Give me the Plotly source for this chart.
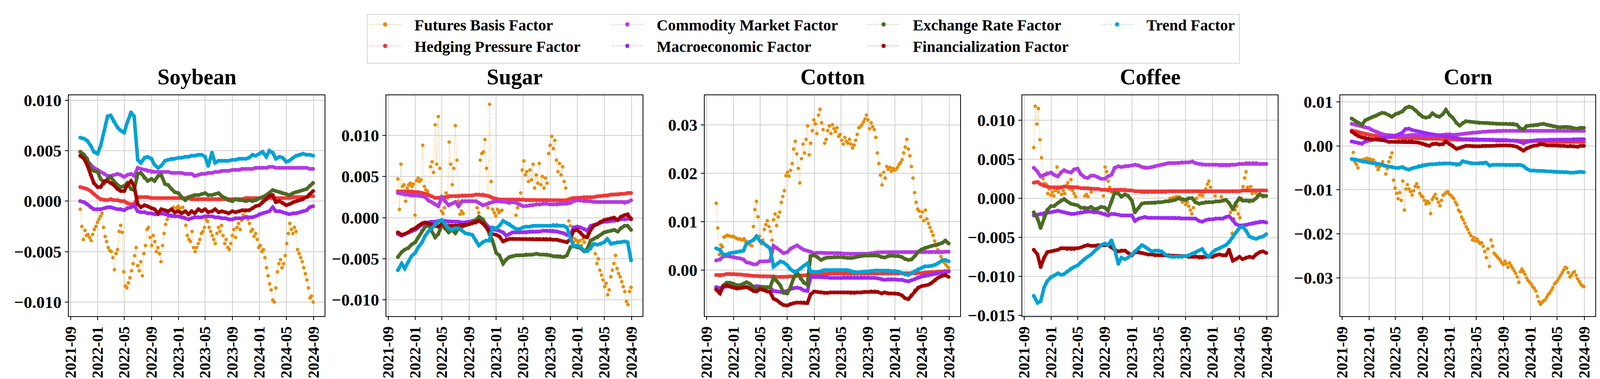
import pandas as pd
import plotly.graph_objects as go

# factor loadings, in units of 1e-3
UNIT = 1e-3

# weekly dates for the futures basis factor, semi-monthly dates for the rest
WEEKLY = pd.date_range("2021-10-15", "2024-08-30", freq="7D")
HALF_MONTH = pd.date_range("2021-10-15", "2024-08-15", freq="SMS").append(pd.DatetimeIndex(["2024-08-30"]))

COMMODITIES = ["Soybean", "Sugar", "Cotton", "Coffee", "Corn"]
FACTORS = ["Futures Basis Factor", "Hedging Pressure Factor", "Commodity Market Factor",
           "Macroeconomic Factor", "Exchange Rate Factor", "Financialization Factor", "Trend Factor"]

# ---- Soybean ----
SOY_BASIS = [-0.8, -2.5, -3.8, -2.9, -3.4, -3.3, -3.6, -3.9, -3.3, -2.8,
             -2.5, -2.1, -1.8, -1.5, -1.2, -2.6, -3.5, -4.0, -4.6, -4.9,
             -5.0, -5.6, -6.8, -5.2, -4.8, -3.0, -2.4, -3.1, -7.0, -8.4,
             -8.6, -8.1, -7.6, -6.9, -6.2, -5.4, -4.6, -6.4, -6.9, -6.0,
             -7.4, -5.2, -4.4, -2.8, -2.6, -3.6, -4.4, -3.4, -4.0, -5.0,
             -4.6, -5.2, -6.0, -4.4, -3.2, -2.3, -1.8, -1.5, -1.4, -0.9,
             -0.6, -1.2, -0.7, -0.5, -0.7, -1.1, -0.6, -1.6, -2.4, -3.4,
             -3.8, -4.0, -3.0, -4.6, -5.0, -4.6, -4.2, -3.8, -3.2, -3.0,
             -2.6, -1.8, -2.0, -2.6, -3.0, -3.4, -3.8, -4.2, -3.2, -2.6,
             -3.0, -2.4, -3.4, -4.2, -3.8, -4.6, -4.8, -4.2, -3.4, -2.8,
             -3.6, -2.6, -2.2, -2.8, -1.9, -1.4, -1.0, -1.5, -1.8, -2.2,
             -3.0, -2.8, -3.5, -3.2, -3.8, -4.6, -4.4, -5.0, -4.8, -5.6,
             -6.6, -7.4, -8.2, -8.8, -9.8, -10.0, -8.6, -7.0, -6.2, -5.8,
             -6.6, -6.2, -5.4, -4.2, -3.2, -2.2, -2.8, -3.2, -2.6, -3.0,
             -4.8, -5.2, -5.6, -6.0, -6.6, -7.2, -7.8, -8.6, -9.6, -9.4, -10.0]
SOY_HEDGE = [1.4, 1.3, 1.2, 1.0, 0.7, 0.4, 0.2, 0.1, 0.1, 0.2,
             0.1, 0.1, 0.0, 0.0, -0.2, -0.3, -0.3, 0.4, 0.4, 0.4,
             0.4, 0.3, 0.3, 0.3, 0.3, 0.3, 0.3, 0.3, 0.3, 0.3,
             0.3, 0.3, 0.3, 0.2, 0.2, 0.2, 0.2, 0.2, 0.2, 0.2,
             0.2, 0.2, 0.2, 0.2, 0.2, 0.2, 0.2, 0.2, 0.2, 0.3,
             0.3, 0.3, 0.3, 0.3, 0.3, 0.3, 0.3, 0.3, 0.3, 0.3,
             0.3, 0.3, 0.3, 0.4, 0.4, 0.4, 0.4, 0.4, 0.5, 0.5]
SOY_COMM = [4.5, 4.3, 4.0, 3.6, 3.3, 3.1, 2.9, 2.7, 2.5, 2.5,
            2.6, 2.7, 2.6, 2.4, 2.6, 2.7, 2.5, 3.3, 3.2, 3.1,
            3.0, 2.9, 2.9, 2.9, 2.9, 2.9, 2.9, 2.8, 2.8, 2.8,
            2.8, 2.7, 2.7, 2.7, 2.5, 2.6, 2.7, 2.7, 2.8, 2.8,
            2.9, 2.9, 3.0, 3.0, 3.0, 3.1, 3.1, 3.1, 3.2, 3.2,
            3.2, 3.2, 3.3, 3.3, 3.3, 3.3, 3.4, 3.4, 3.3, 3.3,
            3.3, 3.3, 3.3, 3.3, 3.3, 3.3, 3.3, 3.3, 3.2, 3.2]
SOY_MACRO = [0.0, -0.1, -0.3, -0.6, -0.8, -0.8, -0.8, -0.7, -0.6, -0.6,
             -0.7, -0.8, -0.8, -0.9, -0.7, -0.6, -0.4, -1.0, -1.1, -1.1,
             -1.2, -1.2, -1.3, -1.3, -1.2, -1.3, -1.4, -1.5, -1.5, -1.5,
             -1.6, -1.7, -1.8, -1.7, -1.6, -1.6, -1.6, -1.5, -1.5, -1.5,
             -1.6, -1.6, -1.7, -1.7, -1.8, -1.8, -1.7, -1.7, -1.7, -1.6,
             -1.6, -1.6, -1.5, -1.3, -1.2, -1.1, -1.0, -0.6, -1.0, -1.0,
             -1.1, -1.2, -1.3, -1.2, -1.2, -1.1, -1.0, -0.9, -0.6, -0.5]
SOY_FX = [4.9, 4.6, 4.2, 3.2, 3.0, 2.9, 2.2, 1.8, 2.2, 2.4,
          2.0, 1.6, 1.4, 1.5, 1.8, 1.2, 1.1, 2.7, 2.8, 2.3,
          2.0, 2.2, 2.0, 2.5, 2.6, 1.7, 1.6, 1.2, 0.9, 0.8,
          0.4, 0.1, 0.4, 0.5, 0.6, 0.6, 0.7, 0.8, 0.6, 0.6,
          0.7, 0.8, 0.5, 0.3, 0.1, 0.0, 0.2, 0.1, 0.1, 0.0,
          0.1, 0.0, 0.1, 0.3, 0.4, 0.6, 0.8, 1.1, 1.0, 0.9,
          0.8, 0.7, 0.6, 0.8, 0.9, 1.0, 1.1, 1.2, 1.5, 1.8]
SOY_FIN = [4.5, 4.2, 3.6, 2.6, 1.8, 1.4, 1.4, 2.0, 2.0, 1.8,
           1.6, 1.2, 1.0, 1.0, 1.6, 2.0, 1.5, -0.3, -0.6, -0.4,
           -0.5, -0.7, -0.8, -1.2, -0.8, -0.9, -1.0, -0.8, -1.1, -1.0,
           -1.2, -1.0, -1.3, -1.0, -1.2, -0.8, -1.0, -0.8, -1.1, -1.0,
           -0.8, -1.1, -1.0, -1.1, -1.2, -1.0, -1.1, -1.0, -0.9, -0.9,
           -0.9, -0.7, -0.5, -0.4, -0.1, 0.2, 0.5, 0.6, -0.1, 0.0,
           -0.2, -0.4, -0.3, -0.1, 0.0, 0.1, 0.2, 0.4, 0.7, 1.0]
SOY_TREND = [6.3, 6.2, 6.0, 5.5, 4.9, 4.7, 5.5, 7.0, 8.4, 8.5,
             7.9, 7.3, 7.0, 6.8, 7.8, 8.8, 8.4, 4.1, 3.8, 4.3,
             4.4, 4.2, 3.6, 3.3, 3.5, 4.0, 4.1, 4.2, 4.2, 4.3,
             4.3, 4.4, 4.4, 4.5, 4.5, 4.6, 4.6, 4.4, 3.5, 4.8,
             3.8, 4.0, 4.0, 4.0, 4.0, 4.1, 4.1, 4.2, 4.2, 4.2,
             4.3, 4.6, 4.5, 4.7, 4.9, 4.4, 5.0, 4.8, 4.2, 4.4,
             4.3, 3.9, 4.0, 4.3, 4.5, 4.6, 4.7, 4.6, 4.6, 4.5]

# ---- Sugar ----
SUGAR_BASIS = [4.7, 1.0, 6.5, 3.8, 4.0, 2.0, 3.6, 4.0, 4.2, 3.8,
               4.1, 0.3, 4.5, 4.8, 4.4, 4.6, 8.8, 3.8, 3.4, 3.2,
               2.0, 6.2, 6.8, 5.5, 11.3, 6.5, 12.3, 6.0, 0.8, 0.5,
               1.2, 3.0, 2.4, 9.2, 6.5, 4.0, 6.0, 11.2, 7.0, 2.0,
               0.4, 0.8, 0.5, None, None, None, None, None, None, None,
               None, 1.2, 0.6, 7.0, 7.8, 8.0, 9.5, 6.0, 1.2, 13.8,
               4.4, 1.0, 0.6, 0.2, 1.0, 0.6, 0.8, 0.9, None, None,
               None, None, None, None, None, None, 0.3, 1.2, 1.6, 3.0,
               5.8, 6.9, 5.2, 5.6, 4.4, 5.8, 4.6, 6.5, 3.6, 5.2,
               4.2, 6.6, 4.0, 5.0, 3.6, 4.8, 4.2, 7.8, 8.8, 9.9,
               8.4, 9.4, 7.0, 5.6, 6.6, 5.2, 6.2, 4.4, 3.6, 2.2,
               -0.4, -1.0, -2.4, -3.0, -2.6, -2.8, -3.0, -2.8, -3.4, -2.6,
               -3.0, -2.4, -2.0, -1.6, -3.8, -3.4, -2.6, -4.4, -5.6, -5.0,
               -6.4, -7.0, -7.6, -8.4, -8.0, -9.4, -8.8, -7.2, -6.4, -5.6,
               -4.6, -6.2, -6.8, -7.2, -7.8, -8.4, -9.0, -10.2, -10.6, -9.0, -8.5]
SUGAR_HEDGE = [3.2, 3.2, 3.2, 3.2, 3.2, 3.1, 3.1, 3.0, 2.9, 2.8,
               2.6, 2.4, 2.4, 2.4, 2.5, 2.6, 2.6, 2.6, 2.6, 2.7,
               2.7, 2.7, 2.7, 2.8, 2.8, 2.8, 2.7, 2.6, 2.4, 2.3,
               2.2, 2.2, 2.2, 2.2, 2.2, 2.2, 2.2, 2.2, 2.1, 2.1,
               2.1, 2.1, 2.1, 2.1, 2.1, 2.1, 2.1, 2.1, 2.1, 2.1,
               2.1, 2.3, 2.4, 2.4, 2.4, 2.5, 2.5, 2.5, 2.5, 2.6,
               2.6, 2.7, 2.7, 2.8, 2.8, 2.8, 2.9, 2.9, 3.0, 3.0]
SUGAR_COMM = [3.0, 2.9, 2.8, 2.8, 2.7, 2.7, 2.7, 2.6, 2.5, 2.1,
              1.9, 1.6, 1.4, 2.5, 2.0, 1.5, 1.7, 1.9, 1.4, 2.0,
              2.0, 2.0, 2.0, 2.0, 1.8, 1.5, 1.6, 1.8, 1.9, 2.0,
              2.0, 2.0, 1.9, 1.8, 1.9, 1.8, 1.6, 1.4, 1.4, 1.5,
              1.5, 1.6, 1.6, 1.7, 1.7, 1.6, 1.6, 1.6, 1.7, 1.7,
              1.7, 1.8, 2.0, 2.1, 2.1, 2.0, 2.0, 2.0, 1.9, 1.9,
              1.9, 1.9, 1.9, 1.9, 1.9, 1.9, 1.9, 1.8, 1.9, 2.1]
SUGAR_MACRO = [-2.0, -2.2, -2.0, -1.8, -1.6, -1.5, -1.2, -0.8, -0.6, -0.6,
               -0.5, -0.5, -0.4, -0.4, -0.4, -0.5, -0.5, -0.5, -0.5, -0.6,
               -0.6, -0.5, -0.4, -0.3, 0.0, -0.2, -0.8, -1.2, -1.4, -1.5,
               -1.6, -1.8, -2.2, -2.0, -1.8, -1.8, -1.8, -1.8, -1.8, -1.7,
               -1.7, -1.7, -1.7, -1.6, -1.6, -1.6, -1.6, -1.7, -1.8, -1.9,
               -2.1, -2.2, -1.2, -1.1, -1.2, -1.4, -1.6, -1.0, -0.9, -0.8,
               -0.6, -0.5, -0.5, -0.4, -0.4, -0.3, -0.2, -0.2, -0.1, -0.1]
SUGAR_FX = [-4.8, -4.2, -3.9, -3.7, -3.3, -3.0, -2.4, -1.6, -1.1, -0.9,
            -1.5, -2.4, -2.0, -0.9, -1.3, -1.8, -1.5, -1.9, -1.3, -1.1,
            -0.9, -0.8, -0.6, -0.3, 0.1, -0.2, -1.0, -2.0, -2.8, -4.3,
            -4.6, -5.6, -5.1, -4.8, -4.7, -4.6, -4.6, -4.6, -4.5, -4.5,
            -4.5, -4.4, -4.5, -4.5, -4.5, -4.6, -4.7, -4.7, -4.7, -4.8,
            -4.6, -3.6, -3.5, -3.6, -3.7, -4.1, -3.8, -2.8, -2.6, -2.4,
            -2.1, -1.8, -1.7, -1.6, -1.5, -1.7, -1.3, -1.0, -1.0, -1.5]
SUGAR_FIN = [-1.8, -2.1, -2.0, -1.8, -1.5, -1.3, -1.0, -0.7, -0.6, -0.7,
             -0.9, -1.0, -1.1, -0.8, -0.9, -1.0, -1.0, -1.0, -1.0, -0.9,
             -0.9, -0.8, -0.7, -0.6, -0.4, -0.7, -1.1, -1.6, -2.0, -2.1,
             -2.3, -2.9, -2.7, -2.6, -2.6, -2.6, -2.6, -2.6, -2.6, -2.6,
             -2.6, -2.6, -2.6, -2.6, -2.6, -2.6, -2.7, -2.7, -2.8, -2.9,
             -3.0, -2.6, -1.6, -1.5, -1.8, -2.3, -2.4, -1.5, -1.0, -0.8,
             -0.5, -0.3, -0.2, -0.1, 0.0, -0.3, 0.1, 0.3, 0.4, -0.2]
SUGAR_TREND = [-6.4, -5.6, -6.2, -5.4, -4.7, -4.3, -3.6, -3.0, -2.2, -1.7,
               -1.3, -0.8, -0.5, -0.3, -0.8, -1.3, -1.5, -1.3, -1.3, -1.6,
               -1.9, -2.0, -2.1, -2.8, -3.4, -3.0, -2.8, -2.8, -1.2, -1.3,
               -1.0, -0.4, -0.6, -0.8, -1.1, -1.4, -1.4, -1.2, -1.1, -1.1,
               -1.0, -1.0, -1.0, -1.0, -1.0, -1.0, -0.9, -0.9, -1.0, -1.0,
               -1.2, -2.6, -3.5, -3.4, -3.6, -4.0, -4.1, -3.7, -3.2, -3.3,
               -3.2, -3.0, -2.6, -3.2, -3.1, -3.0, -3.0, -2.9, -3.0, -5.2]

# ---- Cotton ----
COTTON_BASIS = [13.8, 8.7, 3.2, 5.2, 4.8, 6.8, 7.0, 7.2, 7.1, 7.0,
                6.9, 7.0, 6.8, 6.6, 6.4, 6.5, 6.3, 6.2, 6.5, 6.0,
                5.8, 5.5, 5.2, 5.0, 9.0, 12.5, 14.2, 11.0, 7.0, 5.5,
                6.2, 8.4, 9.4, 10.2, 9.0, 8.0, 6.2, 10.4, 11.6, 9.2,
                11.0, 12.0, 14.0, 15.2, 16.4, 19.5, 20.2, 19.4, 20.6, 22.0,
                25.0, 26.6, 24.0, 21.0, 18.0, 23.0, 26.0, 24.2, 27.0, 29.8,
                23.8, 26.2, 28.8, 31.0, 30.2, 28.2, 32.0, 33.2, 30.4, 29.0,
                26.2, 27.0, 28.8, 29.8, 28.2, 30.0, 29.2, 28.6, 29.4, 27.6,
                28.0, 26.8, 26.0, 27.4, 26.6, 26.2, 27.0, 26.0, 25.2, 25.8,
                26.8, 28.0, 29.4, 29.6, 30.0, 30.6, 31.2, 32.0, 31.0, 29.2,
                30.4, 29.6, 29.0, 27.4, 24.2, 22.0, 19.6, 17.6, 20.2, 19.0,
                21.4, 20.8, 21.2, 20.4, 21.0, 20.6, 20.8, 21.2, 21.8, 22.2,
                22.8, 24.2, 25.4, 27.0, 25.0, 23.6, 21.4, 19.0, 16.0, 14.0,
                12.6, 12.2, 11.0, 12.0, 10.2, 12.4, 10.6, 9.6, 8.8, 8.0,
                7.2, 6.0, 5.0, 4.2, 3.6, 2.8, 2.2, 1.6, 1.2, 0.8, 0.5]
COTTON_HEDGE = [-1.0, -1.1, -1.0, -0.8, -0.8, -0.8, -0.9, -0.9, -1.0, -1.0,
                -1.1, -1.2, -1.2, -1.3, -1.3, -1.3, -1.3, -1.3, -1.4, -1.4,
                -1.4, -1.4, -1.3, -1.3, -1.2, -1.1, -1.1, -1.0, -1.0, -0.9,
                -0.9, -0.8, -0.8, -0.8, -0.7, -0.7, -0.7, -0.7, -0.7, -0.7,
                -0.7, -0.7, -0.7, -0.7, -0.7, -0.7, -0.7, -0.7, -0.7, -0.7,
                -0.7, -0.7, -0.7, -0.7, -0.7, -0.7, -0.7, -0.7, -0.7, -0.7,
                -0.6, -0.6, -0.5, -0.5, -0.4, -0.4, -0.3, -0.3, -0.2, -0.2]
COTTON_COMM = [2.0, 2.2, 2.8, 2.9, 2.8, 2.7, 2.5, 2.4, 2.2, 1.6,
               1.5, 1.2, 1.2, 1.8, 1.8, 1.8, 1.9, 5.0, 4.6, 4.0,
               3.5, 3.7, 4.4, 4.8, 5.1, 4.6, 4.2, 4.0, 3.8, 3.5,
               3.6, 3.6, 3.5, 3.5, 3.5, 3.5, 3.5, 3.5, 3.4, 3.4,
               3.3, 3.3, 3.3, 3.4, 3.4, 3.4, 3.5, 3.6, 3.7, 3.7,
               3.7, 3.7, 3.7, 3.7, 3.7, 3.7, 3.7, 3.7, 3.7, 3.7,
               3.7, 3.7, 3.7, 3.7, 3.7, 3.7, 3.7, 3.7, 3.8, 3.8]
COTTON_MACRO = [-3.5, -3.7, -3.5, -3.3, -3.3, -3.3, -3.3, -3.4, -3.4, -3.5,
                -3.6, -3.5, -3.3, -3.4, -3.5, -3.6, -3.6, -4.3, -4.4, -4.5,
                -4.4, -4.3, -3.9, -3.7, -3.6, -3.8, -4.2, -4.3, -1.5, -1.4,
                -1.4, -1.4, -1.5, -1.5, -1.6, -1.6, -1.6, -1.6, -1.5, -1.5,
                -1.5, -1.5, -1.5, -1.5, -1.5, -1.5, -1.6, -1.6, -1.7, -1.9,
                -2.0, -1.9, -1.9, -1.9, -2.0, -2.0, -2.2, -2.3, -2.1, -1.8,
                -1.5, -1.3, -1.2, -1.0, -0.9, -0.7, -0.6, -0.5, -0.4, -0.3]
COTTON_FX = [-4.0, -4.6, -3.2, -2.6, -2.6, -2.8, -3.1, -3.1, -2.8, -2.5,
             -2.8, -3.4, -4.0, -3.6, -3.5, -3.5, -3.6, -1.6, -2.2, -3.2,
             -4.7, -4.8, -3.6, -1.5, -0.5, -1.8, -2.6, -3.0, 2.9, 3.1,
             2.7, 2.1, 2.4, 2.6, 2.6, 2.7, 2.7, 2.7, 2.6, 2.5,
             2.5, 2.6, 2.8, 2.9, 3.0, 3.0, 3.1, 3.1, 3.0, 2.7,
             2.6, 2.9, 3.0, 2.9, 2.9, 2.7, 2.3, 2.1, 2.2, 3.0,
             3.8, 4.3, 4.6, 4.8, 5.0, 5.2, 5.3, 5.6, 6.1, 5.5]
COTTON_FIN = [-4.0, -4.8, -3.4, -3.1, -3.4, -3.6, -3.8, -3.7, -3.6, -3.5,
              -3.8, -4.3, -4.4, -3.9, -4.1, -4.4, -4.5, -5.9, -6.2, -6.8,
              -7.2, -7.3, -7.0, -6.8, -6.7, -6.7, -6.7, -6.8, -5.0, -4.4,
              -4.5, -4.6, -4.7, -4.7, -4.6, -4.6, -4.6, -4.6, -4.6, -4.6,
              -4.7, -4.7, -4.6, -4.6, -4.5, -4.5, -4.4, -4.4, -4.5, -4.8,
              -4.6, -4.8, -4.8, -4.8, -4.9, -5.2, -5.8, -6.0, -5.2, -4.2,
              -3.6, -3.3, -3.2, -3.0, -2.6, -2.0, -1.5, -1.2, -1.0, -1.4]
COTTON_TREND = [4.5, 4.2, 3.2, 3.2, 3.5, 3.6, 3.7, 3.9, 4.0, 5.5,
                5.8, 6.2, 7.0, 6.0, 5.6, 5.0, 4.5, 0.7, 1.2, 1.8,
                1.6, 1.0, 0.2, -0.3, -0.2, 0.3, 0.9, 1.4, -0.2, -0.4,
                -0.4, -0.2, 0.0, 0.0, 0.0, 0.0, 0.0, 0.0, 0.0, 0.0,
                -0.2, -0.4, -0.5, -0.4, -0.3, -0.3, -0.2, -0.1, -0.1, -0.1,
                -0.1, -0.1, -0.2, -0.2, -0.3, -0.6, -0.9, -1.0, -0.6, -0.2,
                0.2, 0.5, 0.8, 0.8, 0.9, 1.1, 1.5, 2.0, 2.1, 1.8]

# ---- Coffee ----
COFFEE_BASIS = [6.5, 11.8, 9.5, 11.5, 7.5, 5.2, 2.5, 1.9, 1.8, 0.6,
                1.2, 0.4, 0.8, 0.3, 1.0, 4.0, 0.8, 1.4, 0.5, 1.0,
                0.6, 1.6, 2.0, 1.2, 2.4, 1.0, 0.6, 0.2, None, None,
                None, None, None, 0.3, 0.5, 0.2, None, 0.8, None, None,
                None, None, None, None, None, 0.3, 4.0, 3.4, 2.2, 1.4,
                0.8, None, None, None, None, None, None, None, None, None,
                None, None, None, None, None, None, None, None, None, None,
                None, None, None, None, None, None, None, None, None, None,
                None, None, None, None, None, None, None, None, 0.0, -0.1,
                0.1, 0.0, 0.2, 0.0, 0.2, -0.2, -0.5, -0.3, -0.8, -0.5,
                -1.0, -1.5, -2.0, -1.2, -0.4, 0.0, None, 0.4, 0.6, 0.3,
                0.8, 1.2, 1.8, 2.2, 1.4, 0.9, None, 0.3, None, None,
                None, 0.2, None, None, None, None, None, -1.8, -4.5, -2.6,
                -1.5, -1.0, -2.0, -2.5, 0.0, 1.5, 2.6, 3.4, 1.4, 1.0,
                1.5, 0.6, None, 0.8, 0.5, None, 0.5, None, 0.2, None, None]
COFFEE_HEDGE = [2.0, 2.1, 1.8, 1.6, 1.5, 1.4, 1.4, 1.3, 1.4, 1.5,
                1.5, 1.4, 1.4, 1.4, 1.3, 1.3, 1.3, 1.2, 1.2, 1.2,
                1.1, 1.1, 1.0, 1.0, 1.1, 1.1, 1.1, 1.1, 1.0, 1.0,
                0.9, 0.9, 0.8, 0.8, 0.8, 0.8, 0.8, 0.8, 0.8, 0.8,
                0.9, 0.9, 0.9, 0.9, 0.9, 0.9, 0.9, 0.9, 0.9, 0.9,
                0.9, 0.9, 0.9, 0.9, 0.9, 0.9, 0.9, 0.9, 0.9, 0.9,
                0.9, 0.9, 1.0, 1.0, 1.0, 1.0, 1.0, 1.0, 1.0, 1.0]
COFFEE_COMM = [3.9, 3.4, 2.8, 3.0, 3.2, 3.3, 3.0, 2.8, 3.3, 3.6,
               3.4, 3.3, 3.7, 3.8, 3.1, 2.7, 2.6, 2.9, 2.9, 2.7,
               2.5, 2.5, 2.8, 3.0, 3.9, 4.1, 4.0, 4.1, 4.1, 4.2,
               4.3, 4.2, 4.0, 3.9, 3.9, 4.0, 4.1, 4.2, 4.3, 4.4,
               4.5, 4.5, 4.5, 4.5, 4.6, 4.6, 4.6, 4.7, 4.5, 4.4,
               4.3, 4.3, 4.3, 4.3, 4.3, 4.2, 4.2, 4.2, 4.2, 4.3,
               4.3, 4.4, 4.4, 4.5, 4.5, 4.5, 4.5, 4.4, 4.4, 4.4]
COFFEE_MACRO = [-2.2, -2.1, -2.0, -1.9, -1.8, -1.8, -1.7, -1.6, -1.7, -1.8,
                -1.9, -2.0, -2.0, -1.9, -1.8, -1.7, -1.7, -1.7, -1.8, -1.8,
                -1.9, -2.0, -2.2, -2.0, -2.0, -2.1, -2.2, -2.2, -2.2, -2.2,
                -2.9, -2.6, -2.5, -2.4, -2.5, -2.5, -2.5, -2.5, -2.5, -2.5,
                -2.5, -2.5, -2.5, -2.5, -2.6, -2.6, -2.6, -2.6, -2.6, -2.9,
                -3.0, -2.8, -2.7, -2.7, -2.6, -2.6, -2.6, -2.4, -2.3, -2.8,
                -3.3, -3.5, -3.5, -3.4, -3.3, -3.2, -3.1, -3.0, -3.0, -3.1]
COFFEE_FX = [-1.8, -2.6, -3.8, -2.4, -1.5, -1.0, -1.0, -0.6, -0.3, -0.1,
             -0.4, -0.7, -0.8, -0.9, -1.2, -1.2, -1.3, -1.1, -1.4, -1.3,
             -1.1, -1.2, -1.6, -0.4, 0.7, 0.6, 0.2, 0.5, 0.3, -0.3,
             -1.8, -1.2, -0.7, -0.6, -0.6, -0.6, -0.6, -0.5, -0.5, -0.4,
             -0.4, -0.3, -0.2, 0.0, -0.1, -0.2, 0.0, 0.0, -0.5, -0.7,
             -0.6, -0.5, -0.5, -0.5, -0.4, -0.4, -0.3, -0.2, -0.6, -1.4,
             -0.6, 0.0, -0.3, -0.3, -0.4, -0.3, 0.0, 0.5, 0.3, 0.3]
COFFEE_FIN = [-6.6, -7.2, -8.8, -7.6, -6.9, -6.8, -6.7, -6.6, -6.4, -6.4,
              -6.5, -6.5, -6.5, -6.4, -6.3, -6.1, -6.0, -6.1, -6.1, -6.0,
              -6.0, -6.0, -6.0, -6.3, -6.6, -6.8, -6.7, -6.7, -7.0, -7.3,
              -6.9, -6.9, -7.0, -7.1, -7.2, -7.2, -7.3, -7.3, -7.3, -7.3,
              -7.3, -7.4, -7.4, -7.4, -7.4, -7.4, -7.5, -7.5, -7.5, -7.6,
              -7.6, -7.5, -7.5, -7.5, -7.3, -7.2, -7.3, -7.3, -6.6, -8.0,
              -7.8, -7.5, -7.8, -7.6, -7.5, -7.6, -7.2, -6.9, -6.8, -7.0]
COFFEE_TREND = [-12.5, -13.4, -13.2, -11.4, -10.6, -10.1, -9.9, -9.6, -9.8, -9.7,
                -9.4, -9.0, -8.8, -8.6, -8.2, -7.8, -7.5, -7.2, -6.8, -6.4,
                -6.0, -5.8, -6.0, -5.4, -6.5, -8.4, -7.6, -7.8, -7.6, -7.2,
                -6.8, -6.4, -6.0, -6.2, -6.5, -6.8, -6.7, -6.7, -6.8, -7.2,
                -7.4, -7.5, -7.5, -7.5, -7.5, -7.4, -7.3, -7.1, -7.0, -6.7,
                -6.5, -7.2, -7.5, -6.9, -6.6, -6.4, -6.2, -6.0, -5.6, -5.0,
                -4.4, -3.8, -3.6, -4.2, -4.9, -5.1, -5.2, -5.0, -4.9, -4.6]

# ---- Corn ----
CORN_BASIS = [-3.0, -1.5, -3.6, -4.2, -5.0, -3.4, -3.2, -3.6, -3.0, -3.4,
              -2.8, -3.2, -3.0, -3.6, -3.2, -3.8, -4.6, -5.4, -4.8, -4.4,
              -3.6, -4.6, -6.4, -5.2, -3.6, -2.6, -1.6, -7.8, -9.6, -10.8,
              -12.0, -10.6, -12.4, -8.0, -14.6, -9.8, -8.8, -9.8, -10.4, -11.2,
              -10.2, -9.2, -8.6, -9.4, -10.8, -11.4, -11.6, -12.4, -13.2, -12.6,
              -13.0, -15.4, -12.2, -11.6, -11.0, -12.0, -12.8, -13.6, -12.4, -11.2,
              -11.0, -10.6, -10.4, -11.0, -11.2, -11.6, -12.0, -12.8, -13.4, -14.6,
              -15.0, -16.2, -16.8, -17.6, -18.4, -19.0, -19.8, -20.4, -21.4, -20.8,
              -21.6, -21.2, -21.8, -22.2, -22.0, -22.8, -24.0, -25.4, -23.4, -27.4,
              -21.4, -22.8, -24.4, -24.8, -25.2, -25.6, -26.0, -26.6, -27.0, -26.2,
              -26.8, -27.6, -26.6, -27.2, -27.8, -28.4, -29.0, -29.8, -31.0, -28.6,
              -28.0, -28.6, -29.2, -30.0, -30.6, -31.0, -31.4, -32.0, -32.4, -33.0,
              -34.2, -35.4, -36.0, -35.6, -35.2, -35.0, -34.4, -33.8, -33.4, -32.8,
              -32.2, -31.4, -31.0, -30.6, -30.0, -29.4, -28.8, -28.2, -27.6, -27.8,
              -28.8, -29.8, -29.4, -28.8, -28.6, -29.4, -30.2, -30.8, -31.4, -31.8, -32.0]
CORN_HEDGE = [3.5, 3.3, 3.0, 2.8, 2.6, 2.5, 2.4, 2.3, 2.2, 2.1,
              2.1, 2.0, 2.0, 1.9, 1.9, 1.8, 1.8, 1.8, 1.7, 1.7,
              1.7, 1.7, 1.6, 1.6, 1.6, 1.6, 1.6, 1.5, 1.5, 1.5,
              1.5, 1.4, 1.4, 1.4, 1.4, 1.4, 1.3, 1.3, 1.3, 1.3,
              1.3, 1.3, 1.3, 1.2, 1.2, 1.2, 1.2, 1.2, 1.2, 1.2,
              1.1, 1.1, 1.1, 1.1, 1.1, 1.1, 1.0, 1.0, 1.0, 1.0,
              1.0, 1.0, 1.0, 1.0, 1.0, 1.0, 0.9, 0.9, 0.9, 0.9]
CORN_COMM = [5.0, 4.8, 4.6, 4.4, 4.2, 4.0, 3.6, 3.2, 2.9, 2.7,
             2.5, 2.4, 2.3, 2.3, 2.2, 2.2, 2.3, 2.4, 2.5, 2.5,
             2.4, 2.3, 2.2, 2.2, 2.3, 2.3, 2.4, 2.5, 2.6, 2.6,
             2.5, 2.5, 2.6, 2.7, 2.8, 2.9, 3.0, 3.0, 3.1, 3.2,
             3.2, 3.3, 3.3, 3.4, 3.4, 3.4, 3.4, 3.4, 3.4, 3.4,
             3.4, 3.4, 3.4, 3.4, 3.4, 3.4, 3.4, 3.4, 3.4, 3.4,
             3.4, 3.4, 3.4, 3.4, 3.4, 3.4, 3.4, 3.4, 3.4, 3.4]
CORN_MACRO = [1.0, 0.8, 0.6, 0.5, 1.0, 1.2, 1.4, 1.5, 1.7, 1.8,
              1.9, 2.0, 2.1, 2.3, 2.6, 3.0, 3.8, 3.9, 3.6, 3.4,
              3.2, 3.0, 2.8, 2.7, 2.6, 2.5, 2.4, 2.3, 2.2, 2.2,
              2.0, 1.8, 1.6, 1.5, 1.5, 1.5, 1.5, 1.5, 1.4, 1.4,
              1.4, 1.4, 1.4, 1.3, 1.3, 1.3, 1.3, 1.2, 1.2, 1.1,
              0.9, 0.6, 0.9, 1.1, 1.2, 1.3, 1.3, 1.3, 1.3, 1.4,
              1.4, 1.4, 1.4, 1.4, 1.4, 1.4, 1.5, 1.5, 1.5, 1.5]
CORN_FX = [6.2, 5.6, 5.2, 4.8, 5.8, 6.2, 6.5, 6.8, 7.2, 7.5,
           7.4, 7.0, 6.6, 7.2, 7.4, 7.8, 8.6, 8.9, 8.7, 8.0,
           7.2, 6.6, 6.4, 6.6, 7.4, 6.8, 6.6, 7.2, 8.2, 7.0,
           6.4, 5.2, 4.6, 5.2, 5.6, 5.5, 5.4, 5.3, 5.2, 5.2,
           5.2, 5.1, 5.1, 5.0, 5.0, 5.0, 5.0, 5.0, 5.0, 4.8,
           4.0, 3.7, 4.5, 4.6, 4.6, 4.7, 4.9, 5.0, 4.8, 4.6,
           4.4, 4.2, 4.2, 4.3, 4.3, 4.2, 4.0, 3.9, 4.1, 4.1]
CORN_FIN = [3.2, 2.6, 2.2, 1.9, 1.7, 1.6, 1.5, 1.5, 1.4, 1.3,
            1.2, 0.9, 0.9, 0.9, 1.0, 1.0, 1.0, 1.0, 1.0, 0.8,
            0.7, 0.5, 0.2, 0.0, 0.4, 0.5, 0.3, 0.4, 1.0, 0.4,
            0.0, -0.7, -0.5, -0.2, 0.0, 0.0, -0.1, -0.1, -0.1, 0.0,
            0.0, 0.0, 0.0, 0.1, 0.1, 0.1, 0.1, 0.1, 0.0, -0.2,
            -0.6, -1.1, -0.6, -0.2, 0.0, 0.1, 0.4, 0.3, 0.1, 0.1,
            0.1, 0.1, 0.0, 0.0, -0.1, 0.0, -0.1, -0.2, 0.0, 0.0]
CORN_TREND = [-3.0, -3.1, -3.3, -3.5, -3.6, -3.8, -3.9, -4.0, -4.1, -4.3,
              -4.5, -4.7, -4.8, -5.0, -5.0, -4.8, -5.2, -5.4, -5.1, -4.9,
              -4.6, -4.4, -4.3, -4.2, -4.2, -4.1, -4.0, -4.0, -4.0, -4.0,
              -4.1, -4.3, -4.2, -3.5, -3.7, -3.9, -4.0, -4.0, -4.0, -4.0,
              -3.8, -4.5, -4.3, -4.3, -4.3, -4.3, -4.4, -4.4, -4.4, -4.4,
              -4.3, -4.6, -5.2, -5.6, -5.6, -5.7, -5.7, -5.7, -5.8, -5.8,
              -5.9, -6.0, -6.0, -6.0, -6.0, -6.1, -6.1, -6.0, -5.9, -6.0]

SERIES = {
    "Soybean": [SOY_BASIS, SOY_HEDGE, SOY_COMM, SOY_MACRO, SOY_FX, SOY_FIN, SOY_TREND],
    "Sugar": [SUGAR_BASIS, SUGAR_HEDGE, SUGAR_COMM, SUGAR_MACRO, SUGAR_FX, SUGAR_FIN, SUGAR_TREND],
    "Cotton": [COTTON_BASIS, COTTON_HEDGE, COTTON_COMM, COTTON_MACRO, COTTON_FX, COTTON_FIN, COTTON_TREND],
    "Coffee": [COFFEE_BASIS, COFFEE_HEDGE, COFFEE_COMM, COFFEE_MACRO, COFFEE_FX, COFFEE_FIN, COFFEE_TREND],
    "Corn": [CORN_BASIS, CORN_HEDGE, CORN_COMM, CORN_MACRO, CORN_FX, CORN_FIN, CORN_TREND],
}

for name, lists in SERIES.items():
    assert len(lists[0]) == len(WEEKLY), (name, len(lists[0]))
    for s in lists[1:]:
        assert len(s) == len(HALF_MONTH), (name, len(s))

# ---- styling ----
COLORS = ["#E88C00", "#F03838", "#B43AE2", "#9E2AF0", "#4B6B22", "#A30000", "#00A2D4"]
LINE_RGBA = ["rgba(232,140,0,0.55)", "rgba(240,56,56,0.4)", "rgba(180,58,226,0.4)",
             "rgba(158,42,240,0.4)", "rgba(75,107,34,0.4)", "rgba(163,0,0,0.4)",
             "rgba(0,162,212,0.4)"]
LEGEND_OF = ["legend", "legend", "legend2", "legend2", "legend3", "legend3", "legend4"]

FONT = "Liberation Serif, Times New Roman, serif"
W, H = 4105, 971
ML, MR, MT, MB = 168, 29, 236, 169
PW, PH = W - ML - MR, H - MT - MB

# plot-area pixel spans of the five panels
PANEL_PX = [(168, 823), (981, 1637), (1796, 2450), (2609, 3263), (3423, 4076)]
Y_RANGES = [(-0.0114, 0.0105), (-0.0120, 0.0149), (-0.0095, 0.0361), (-0.0151, 0.0132), (-0.0387, 0.0115)]
Y_DTICK = [0.005, 0.005, 0.01, 0.005, 0.01]
Y_FMT = [".3f", ".3f", ".2f", ".3f", ".2f"]
X_RANGE = ["2021-08-24", "2024-10-21"]


def px_x(p):
    return (p - ML) / PW


def px_y(p):
    return (H - MB - p) / PH


fig = go.Figure()

for i, name in enumerate(COMMODITIES):
    xa = "x" if i == 0 else f"x{i + 1}"
    ya = "y" if i == 0 else f"y{i + 1}"
    for k, vals in enumerate(SERIES[name]):
        xs = WEEKLY if k == 0 else HALF_MONTH
        ys = [None if v is None else v * UNIT for v in vals]
        if k == 0:
            line = dict(color=LINE_RGBA[0], width=1.5, dash="dot")
            marker = dict(color=COLORS[0], size=9)
        else:
            line = dict(color=COLORS[k], width=9)
            marker = dict(color=COLORS[k], size=10)
        fig.add_trace(go.Scatter(
            x=xs, y=ys, mode="lines+markers", name=FACTORS[k],
            line=line, marker=marker, connectgaps=True,
            showlegend=False, xaxis=xa, yaxis=ya, hoverinfo="skip",
        ))

# legend entries: thin faint line with a marker, like the original
PAD = "\u00a0\u00a0\u00a0"
for k, fac in enumerate(FACTORS):
    fig.add_trace(go.Scatter(
        x=[None], y=[None], mode="lines+markers", name=PAD + fac,
        line=dict(color=LINE_RGBA[k], width=2, dash="dot"),
        marker=dict(color=COLORS[k], size=11),
        legend=LEGEND_OF[k], showlegend=True,
    ))

axis_common = dict(
    showline=True, linecolor="black", linewidth=2, mirror=True,
    ticks="outside", ticklen=8, tickwidth=2, tickcolor="black",
    showgrid=True, gridcolor="#cfcfcf", gridwidth=2, zeroline=False,
)

layout = dict(
    width=W, height=H,
    margin=dict(l=ML, r=MR, t=MT, b=MB, autoexpand=False),
    paper_bgcolor="white", plot_bgcolor="white",
    font=dict(family=FONT, color="black"),
    annotations=[], shapes=[],
)

for i, name in enumerate(COMMODITIES):
    sfx = "" if i == 0 else str(i + 1)
    x0, x1 = PANEL_PX[i]
    layout["xaxis" + sfx] = dict(
        axis_common, domain=[px_x(x0), px_x(x1)], anchor="y" + sfx,
        type="date", range=X_RANGE, tick0="2021-09-01", dtick="M4",
        tickformat="%Y-%m", tickangle=-90,
        tickfont=dict(family=FONT, size=40, weight="bold"),
    )
    layout["yaxis" + sfx] = dict(
        axis_common, domain=[0, 1], anchor="x" + sfx,
        range=list(Y_RANGES[i]), dtick=Y_DTICK[i], tick0=0, tickformat=Y_FMT[i],
        tickfont=dict(family=FONT, size=43, weight="bold"),
    )
    layout["annotations"].append(dict(
        text=name, x=(px_x(x0) + px_x(x1)) / 2, y=px_y(189), xref="paper", yref="paper",
        xanchor="center", yanchor="middle", showarrow=False,
        font=dict(family=FONT, size=56, weight="bold", color="black"),
    ))

# legend frame
layout["shapes"].append(dict(
    type="rect", xref="paper", yref="paper",
    x0=px_x(932), x1=px_x(3165), y0=px_y(154), y1=px_y(29),
    line=dict(color="#d4d4d4", width=2), fillcolor="white", layer="below",
))

# pixel x of each legend column's marker
LEGEND_MARKER_X = [988, 1608, 2264, 2862]
for j, mx in enumerate(LEGEND_MARKER_X):
    key = "legend" if j == 0 else f"legend{j + 1}"
    layout[key] = dict(
        x=px_x(mx - 55), y=px_y(22), xref="paper", yref="paper",
        xanchor="left", yanchor="top", orientation="v",
        bgcolor="rgba(0,0,0,0)", borderwidth=0, itemwidth=80,
        font=dict(family=FONT, size=40, weight="bold", color="black"),
        tracegroupgap=0,
    )

fig.update_layout(layout)
fig.write_html("out.html")
